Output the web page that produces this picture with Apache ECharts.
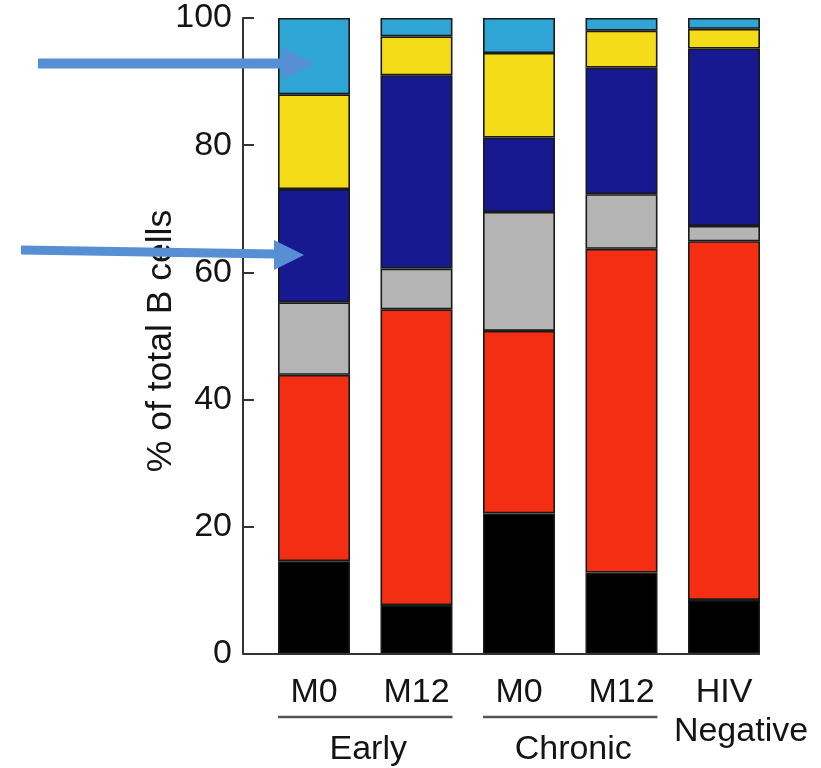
<!DOCTYPE html>
<html><head><meta charset="utf-8">
<script src="https://cdn.jsdelivr.net/npm/echarts@6/dist/echarts.min.js"></script>
<style>html,body{margin:0;padding:0;background:#fff}#c{width:821px;height:768px}</style>
</head><body><div id="c"></div>
<script>
// ---- data ----
const categories = ['M0', 'M12', 'M0', 'M12', 'HIV Negative'];
const groupNames = ['Early', 'Chronic'];
const groupFrom = [0, 2];
const groupTo = [1, 3];
const seriesNames = ['black', 'red', 'gray', 'navy', 'yellow', 'cyan'];
const blackVals  = [14.6, 7.7, 22.1, 12.8, 8.5];
const redVals    = [29.3, 46.5, 28.7, 50.9, 56.4];
const grayVals   = [11.4, 6.4, 18.7, 8.6, 2.4];
const navyVals   = [17.8, 30.4, 11.7, 19.9, 27.9];
const yellowVals = [14.9, 6.1, 13.3, 5.8, 3.1];
const cyanVals   = [12.0, 2.9, 5.5, 2.0, 1.7];
const yMin = 0, yMax = 100, yInterval = 20;
const yTitle = '% of total B cells';

// ---- style ----
const FONT = '"Liberation Sans", Arial, Helvetica, sans-serif';
const TXT = '#141414';
const AX = '#333333';
const colors = ['#000000', '#f32e12', '#b4b4b4', '#16198f', '#f4dc18', '#2fa5d6'];
const stacks = [blackVals, redVals, grayVals, navyVals, yellowVals, cyanVals];
const BAR_W = 72;
const Y_OFFSET = 19.75;
const ARROW = '#578fd5';

const chart = echarts.init(document.getElementById('c'), null, {renderer: 'canvas'});
const option = {
  animation: false,
  backgroundColor: '#fff',
  grid: {left: 262.75, right: 821 - 775.25, top: 18, bottom: 114, containLabel: false},
  xAxis: {
    type: 'category', data: categories,
    axisLine: {show: false}, axisTick: {show: false}, splitLine: {show: false},
    axisLabel: {
      interval: 0, fontSize: 34, fontFamily: FONT, color: TXT, margin: 19, lineHeight: 39,
      formatter: v => v === 'HIV Negative' ? '{h|HIV}\n{n|Negative}' : v,
      rich: {
        h: {fontSize: 34, fontFamily: FONT, color: TXT, lineHeight: 39},
        n: {fontSize: 34, fontFamily: FONT, color: TXT, lineHeight: 39, padding: [0, 0, 0, 34]}
      }
    }
  },
  yAxis: {
    type: 'value', min: yMin, max: yMax, interval: yInterval, offset: Y_OFFSET,
    axisLine: {show: true, lineStyle: {color: AX, width: 2}},
    axisTick: {show: true, inside: true, length: 11, lineStyle: {color: AX, width: 2}},
    splitLine: {show: false},
    axisLabel: {fontSize: 34, fontFamily: FONT, color: TXT, margin: 11},
    name: yTitle, nameLocation: 'middle', nameRotate: 90, nameGap: 64, nameMoveOverlap: false,
    nameTextStyle: {fontSize: 35.5, fontFamily: FONT, color: TXT, padding: [0, 10, 0, 0]}
  },
  series: stacks.map((vals, i) => ({
    name: seriesNames[i], type: 'bar', stack: 'total', data: vals, barWidth: BAR_W,
    itemStyle: {color: colors[i], borderColor: '#1a1a1a', borderWidth: 1.6}
  }))
};
chart.setOption(option);

// annotations positioned through the axes
const cx = i => chart.convertToPixel({xAxisIndex: 0}, i);
const y0 = chart.convertToPixel({yAxisIndex: 0}, 0);
const axisX = 262.75 - Y_OFFSET;
const g = [];
g.push({type: 'line', z: 100, shape: {x1: axisX, y1: y0, x2: cx(categories.length - 1) + BAR_W / 2, y2: y0},
  style: {stroke: AX, lineWidth: 2}});
groupNames.forEach((nm, k) => {
  const x1 = cx(groupFrom[k]) - BAR_W / 2, x2 = cx(groupTo[k]) + BAR_W / 2;
  g.push({type: 'line', shape: {x1, y1: y0 + 63, x2, y2: y0 + 63}, style: {stroke: '#555', lineWidth: 2.5}});
  g.push({type: 'text', x: (x1 + x2) / 2 + 3, y: y0 + 96,
    style: {text: nm, fontSize: 34, fontFamily: FONT, fill: TXT, align: 'center', verticalAlign: 'middle'}});
});
// blue arrows (overlay annotations)
g.push({type: 'polygon', z: 200, shape: {points: [[38, 58.5], [284, 58.5], [284, 68.5], [38, 68.5]]}, style: {fill: ARROW}});
g.push({type: 'polygon', z: 200, shape: {points: [[283, 48], [314, 64], [283, 79]]}, style: {fill: ARROW}});
g.push({type: 'polygon', z: 200, shape: {points: [[21, 245.5], [275, 249.5], [275, 258.5], [21, 254.5]]}, style: {fill: ARROW}});
g.push({type: 'polygon', z: 200, shape: {points: [[274, 240], [304, 255], [274, 270]]}, style: {fill: ARROW}});
chart.setOption({graphic: g});
</script></body></html>
